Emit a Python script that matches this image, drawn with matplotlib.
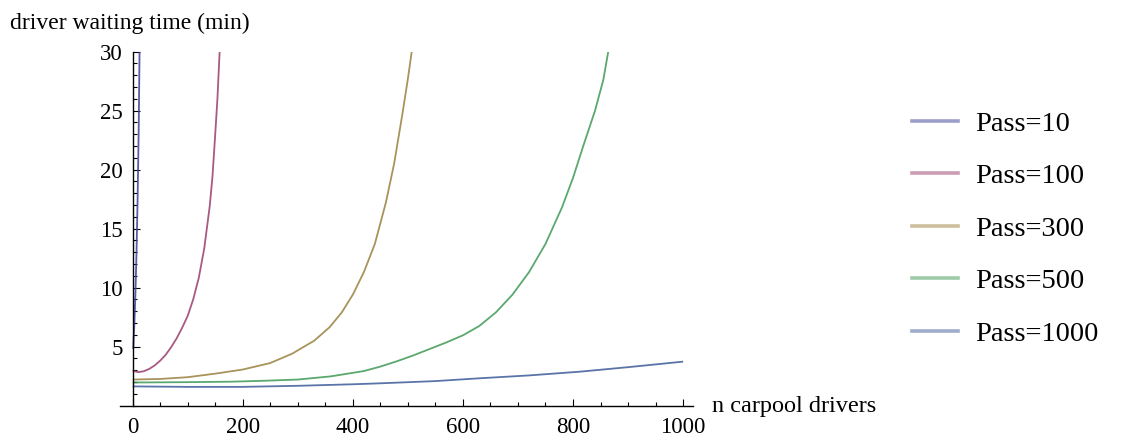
import numpy as np
import matplotlib as mpl
mpl.use('Agg')
import matplotlib.pyplot as plt
from matplotlib.lines import Line2D
from matplotlib.ticker import MultipleLocator

plt.rc('font', family='Liberation Serif')

# values (n carpool drivers, waiting time in min)
x10 = [1, 3, 5, 7, 9, 11, 12.5]
y10 = [4.8, 6.8, 9.5, 13.0, 17.5, 23.5, 30.0]

x100 = [0, 5, 10, 20, 30, 40, 50, 60, 70, 80, 90, 100, 110, 120, 130, 140, 145, 150, 154, 158]
y100 = [3.0, 2.88, 2.83, 2.9, 3.1, 3.4, 3.8, 4.3, 4.95, 5.7, 6.6, 7.6, 9.0, 10.8, 13.3, 16.9, 19.4, 23.0, 26.0, 30.0]

x300 = [0, 50, 100, 150, 200, 250, 290, 330, 358, 380, 400, 420, 440, 460, 475, 490, 500, 507]
y300 = [2.2, 2.25, 2.4, 2.7, 3.05, 3.6, 4.4, 5.5, 6.65, 7.9, 9.4, 11.3, 13.7, 17.2, 20.5, 24.7, 27.7, 30.0]

x500 = [0, 100, 180, 240, 300, 360, 420, 450, 480, 510, 540, 570, 600, 630, 660, 690, 720, 750, 780, 800, 820, 840, 855, 864]
y500 = [1.95, 1.98, 2.02, 2.1, 2.2, 2.47, 2.92, 3.3, 3.75, 4.25, 4.8, 5.35, 5.95, 6.75, 7.9, 9.4, 11.3, 13.7, 16.8, 19.3, 22.2, 25.0, 27.6, 30.0]

x1000 = [0, 100, 200, 300, 400, 449, 550, 631, 720, 813, 900, 1000]
y1000 = [1.62, 1.58, 1.58, 1.67, 1.8, 1.88, 2.07, 2.31, 2.55, 2.87, 3.25, 3.72]

labels = ['Pass=10', 'Pass=100', 'Pass=300', 'Pass=500', 'Pass=1000']
colors = ['#3d3d99', '#993d6b', '#99803d', '#3d9954', '#3d5c99']

fig = plt.figure(figsize=(11.22, 4.4), dpi=100)
ax = fig.add_axes([120/1122, 1-405.5/440, 573/1122, 353.8/440])

series = [(x10, y10), (x100, y100), (x300, y300), (x500, y500), (x1000, y1000)]
for (xs, ys), c in zip(series, colors):
    ax.plot(xs, ys, '-', color=c, linewidth=1.3, alpha=0.85, solid_capstyle='butt')

ax.set_xlim(-23, 1018)
ax.set_ylim(0, 30)

ax.spines['left'].set_position(('data', 0))
ax.spines['right'].set_visible(False)
ax.spines['top'].set_visible(False)
for s in ['left', 'bottom']:
    ax.spines[s].set_linewidth(1.0)

ax.set_xticks(np.arange(0, 1001, 200))
ax.set_yticks(np.arange(5, 31, 5))
ax.xaxis.set_minor_locator(MultipleLocator(50))
ax.yaxis.set_minor_locator(MultipleLocator(1))
ax.tick_params(which='major', direction='in', length=5, width=0.8, labelsize=16.5)
ax.tick_params(which='minor', direction='in', length=3, width=0.8)
ax.tick_params(axis='x', pad=8)
ax.tick_params(axis='y', pad=7)

fig.text(10/1122, 1-29/440, 'driver waiting time (min)', fontsize=17, va='baseline', ha='left')
fig.text(712/1122, 1-412/440, 'n carpool drivers', fontsize=17.5, va='baseline', ha='left')

handles = [Line2D([], [], color=c, linewidth=2.6, alpha=0.5) for c in colors]
fig.legend(handles, labels, loc='upper left', bbox_to_anchor=(912/1122, 1-111/440),
           frameon=False, fontsize=20.5, handlelength=1.62, handletextpad=0.6,
           labelspacing=0.93, borderpad=0, borderaxespad=0)

fig.savefig('out.png', dpi=100)
